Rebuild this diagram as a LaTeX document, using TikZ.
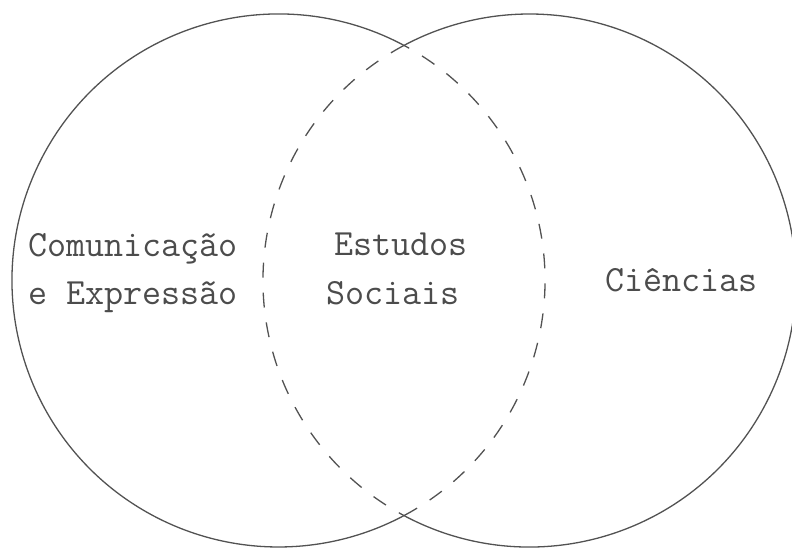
\documentclass[tikz,border=0pt]{standalone}
\begin{document}
\begin{tikzpicture}[x=1pt,y=1pt,
  ring/.style={draw=black!68,line width=1.3pt},
  ringdash/.style={ring,dash pattern=on 15pt off 15pt},
  lbl/.style={font=\fontsize{37}{44}\selectfont\ttfamily, text=black!70, anchor=base west, inner sep=0pt}]
\clip (0,0) rectangle (792,548);
\coordinate (L) at (278.5,267.5);
\coordinate (R) at (529.5,267.5);
\draw[ring] ([shift={(61.9:266.5pt)}]L) arc[start angle=61.9,end angle=298.1,radius=266.5pt];
\draw[ringdash] ([shift={(-61.9:266.5pt)}]L) arc[start angle=-61.9,end angle=61.9,radius=266.5pt];
\draw[ring] ([shift={(-118.1:266.5pt)}]R) arc[start angle=-118.1,end angle=118.1,radius=266.5pt];
\draw[ringdash] ([shift={(118.1:266.5pt)}]R) arc[start angle=118.1,end angle=241.9,radius=266.5pt];
\node[lbl] (com) at (28,291) {Comunicação};
\node[lbl] (exp) at (28,243) {e Expressão};
\node[lbl] (est) at (334,292) {Estudos};
\node[lbl] (soc) at (326,243) {Sociais};
\node[lbl] (cie) at (605,256) {Ciências};
\end{tikzpicture}
\end{document}
